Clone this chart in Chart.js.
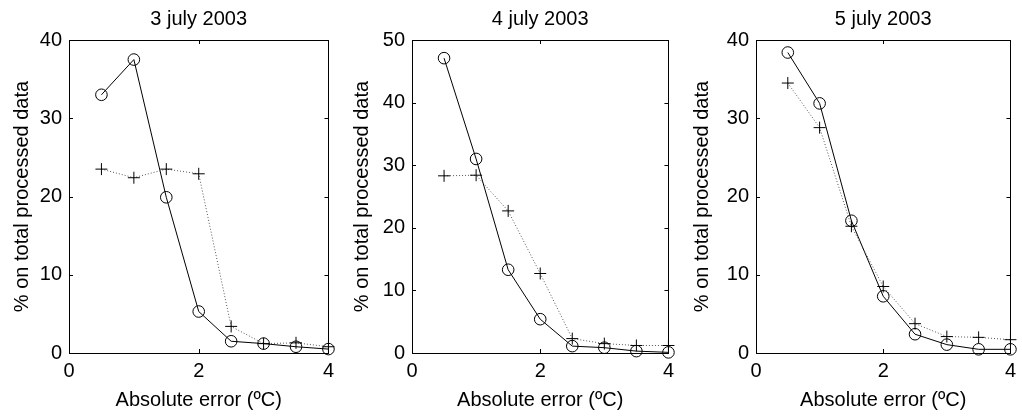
<!DOCTYPE html>
<html>
<head>
<meta charset="utf-8">
<script src="https://cdn.jsdelivr.net/npm/chart.js@4"></script>
<style>
  html, body { margin: 0; padding: 0; background: #fff; }
  .pan { position: absolute; top: 0; height: 416px; }
</style>
</head>
<body>
<div class="pan" style="left:0px;width:340px"><canvas id="c1"></canvas></div>
<div class="pan" style="left:340px;width:340px"><canvas id="c2"></canvas></div>
<div class="pan" style="left:680px;width:342px"><canvas id="c3"></canvas></div>
<script>
// absolute error classes (ºC)
var errors = [0.5, 1, 1.5, 2, 2.5, 3, 3.5, 4]

// 3 july 2003
var circ3 = [33, 37.5, 19.9, 5.3, 1.5, 1.2, 0.8, 0.5]
var plus3 = [23.5, 22.4, 23.5, 22.9, 3.4, 1.2, 1.3, 0.8]
// 4 july 2003
var circ4 = [47.1, 31.0, 13.3, 5.4, 1.1, 0.85, 0.3, 0.1]
var plus4 = [28.3, 28.4, 22.7, 12.7, 2.3, 1.5, 1.2, 1.2]
// 5 july 2003
var circ5 = [38.4, 31.9, 16.9, 7.25, 2.4, 1.07, 0.47, 0.47]
var plus5 = [34.5, 28.8, 16.2, 8.5, 3.75, 2.1, 2.0, 1.7]

var titles = ['3 july 2003', '4 july 2003', '5 july 2003']
var yMax = [40, 50, 40]
var xTicks = [0, 2, 4]

var FONT = "'Liberation Sans', Arial, sans-serif"

function pts(ys) {
    return errors.map(function (x, i) { return {x: x, y: ys[i]} })
}

// frame + inward ticks on all four sides (matlab look)
var framePlugin = {
    id: 'frame',
    afterDatasetsDraw: function (chart) {
        var a = chart.chartArea, ctx = chart.ctx, len = 4
        ctx.save()
        ctx.strokeStyle = '#000'
        ctx.lineWidth = 1
        ctx.strokeRect(Math.round(a.left) + 0.5, Math.round(a.top) + 0.5, Math.round(a.right - a.left), Math.round(a.bottom - a.top))
        ctx.beginPath()
        chart.scales.x.ticks.forEach(function (t) {
            var px = Math.round(chart.scales.x.getPixelForValue(t.value)) + 0.5
            ctx.moveTo(px, a.bottom); ctx.lineTo(px, a.bottom - len)
            ctx.moveTo(px, a.top); ctx.lineTo(px, a.top + len)
        })
        chart.scales.y.ticks.forEach(function (t) {
            var py = Math.round(chart.scales.y.getPixelForValue(t.value)) + 0.5
            ctx.moveTo(a.left, py); ctx.lineTo(a.left + len, py)
            ctx.moveTo(a.right, py); ctx.lineTo(a.right - len, py)
        })
        ctx.stroke()
        ctx.restore()
    }
}

function makeChart(id, idx, circ, plus, yw, padR) {
    var config = {
        type: 'line',
        data: {
            datasets: [
                {
                    data: pts(plus), borderColor: '#555', borderWidth: 1, borderDash: [1, 2],
                    pointStyle: 'cross', pointRadius: 6, pointBorderColor: '#000', pointBorderWidth: 1,
                    pointBackgroundColor: 'rgba(0,0,0,0)', clip: false, tension: 0
                },
                {
                    data: pts(circ), borderColor: '#000', borderWidth: 1,
                    pointStyle: 'circle', pointRadius: 5.8, pointBorderColor: '#000', pointBorderWidth: 1,
                    pointBackgroundColor: 'rgba(0,0,0,0)', clip: false, tension: 0
                }
            ]
        },
        options: {
            responsive: true,
            maintainAspectRatio: false,
            animation: false,
            layout: {padding: {left: 0, right: padR, top: 0, bottom: 0}},
            plugins: {
                legend: {display: false},
                tooltip: {enabled: false},
                title: {
                    display: true, text: titles[idx], color: '#000', fullSize: false,
                    font: {family: FONT, size: 20, weight: 'normal', lineHeight: 1.2},
                    padding: {top: 7, bottom: 9}
                }
            },
            scales: {
                x: {
                    type: 'linear', min: 0, max: 4,
                    afterBuildTicks: function (s) { s.ticks = xTicks.map(function (v) { return {value: v} }) },
                    afterFit: function (s) { s.height = 63 },
                    grid: {display: false, drawTicks: false},
                    border: {display: false},
                    ticks: {color: '#000', padding: 6, maxRotation: 0, font: {family: FONT, size: 20}},
                    title: {
                        display: true, text: 'Absolute error (ºC)', color: '#000',
                        font: {family: FONT, size: 20, lineHeight: 1.2}, padding: {top: 0, bottom: 4}
                    }
                },
                y: {
                    type: 'linear', min: 0, max: yMax[idx],
                    ticks: {stepSize: 10, color: '#000', padding: 7, font: {family: FONT, size: 20}},
                    afterFit: function (s) { s.width = yw },
                    grid: {display: false, drawTicks: false},
                    border: {display: false},
                    title: {
                        display: true, text: '% on total processed data', color: '#000',
                        font: {family: FONT, size: 20, lineHeight: 1.2}, padding: {top: 10, bottom: 0}
                    }
                }
            }
        },
        plugins: [framePlugin]
    }
    return new Chart(document.getElementById(id), config)
}

var ch1 = makeChart('c1', 0, circ3, plus3, 69, 9)
var ch2 = makeChart('c2', 1, circ4, plus4, 72, 7)
var ch3 = makeChart('c3', 2, circ5, plus5, 76, 4)
</script>
</body>
</html>
